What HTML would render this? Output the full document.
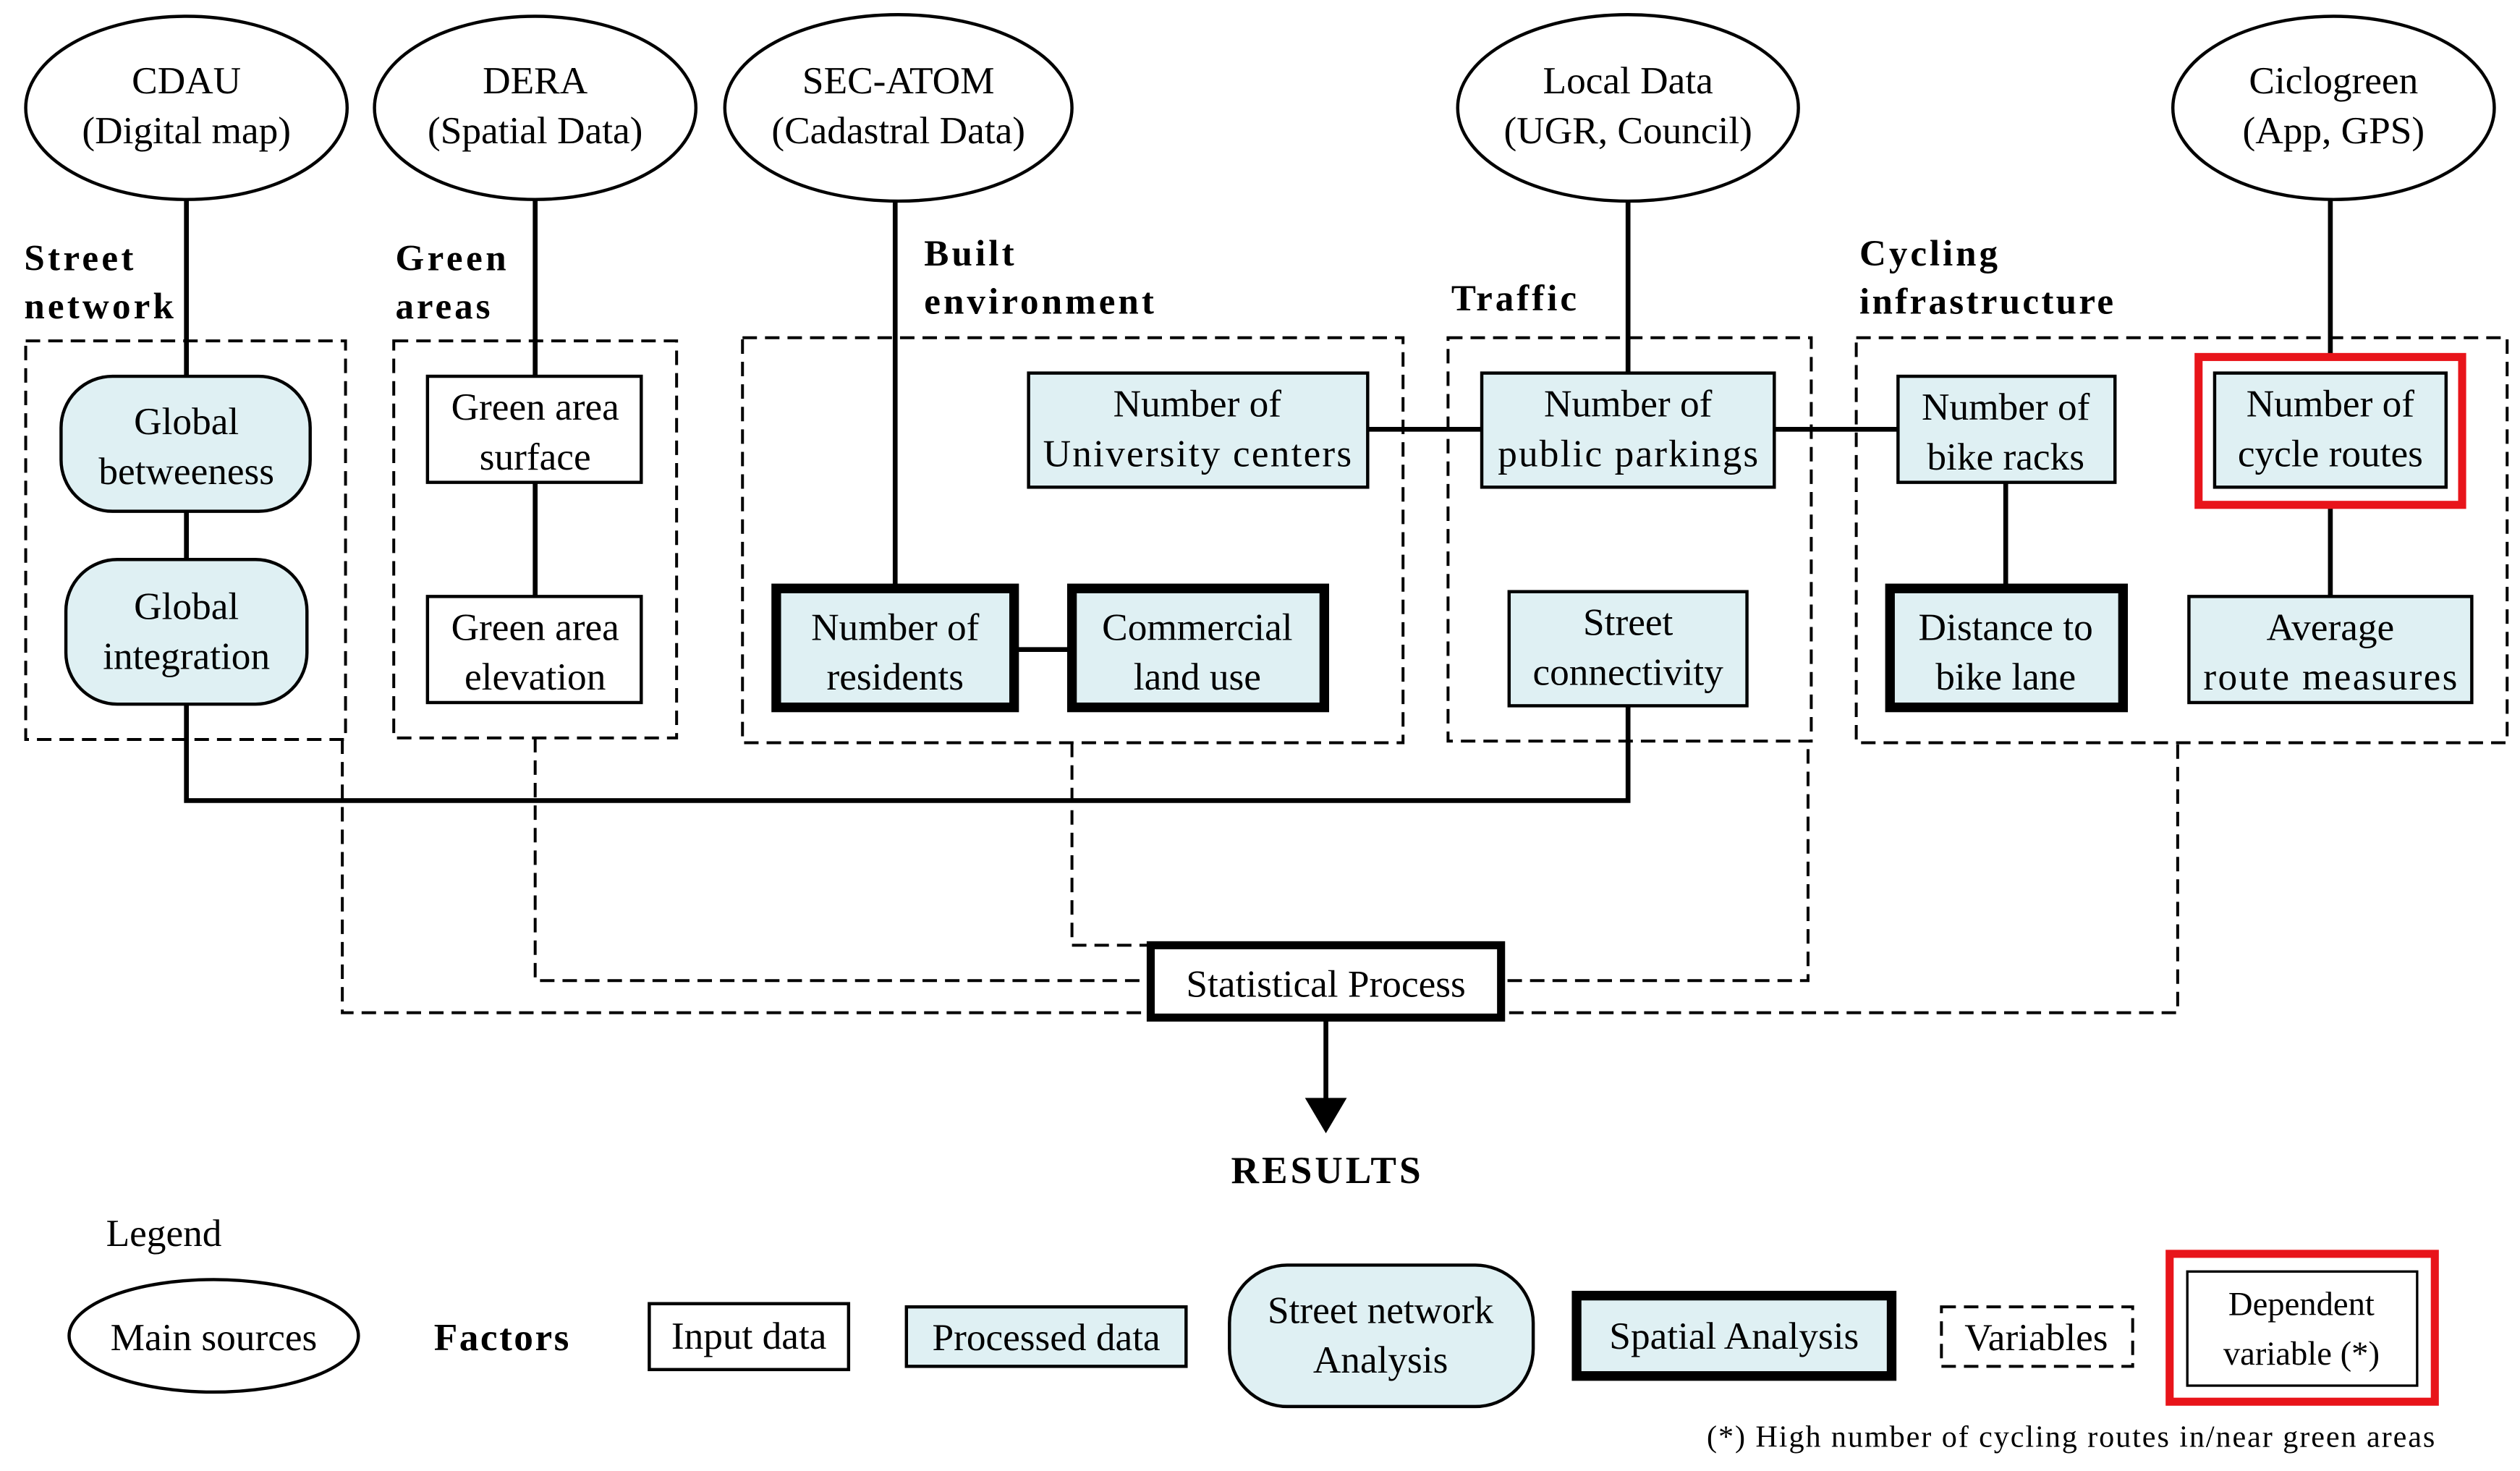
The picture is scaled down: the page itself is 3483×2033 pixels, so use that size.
<!DOCTYPE html>
<html><head><meta charset="utf-8"><style>html,body{margin:0;padding:0;background:#fff}svg{display:block}</style></head>
<body>
<svg width="3483" height="2033" viewBox="0 0 1568 915" xmlns="http://www.w3.org/2000/svg" font-family="Liberation Serif, serif" font-size="24">
<rect width="1568" height="915" fill="#fff"/>
<g fill="#fff" stroke="#000" stroke-width="2">
<ellipse cx="116" cy="67" rx="100" ry="57"/>
<ellipse cx="333" cy="67" rx="100" ry="57"/>
<ellipse cx="559" cy="67" rx="108" ry="58"/>
<ellipse cx="1013" cy="67" rx="106" ry="58"/>
<ellipse cx="1452" cy="67" rx="100" ry="57"/>
</g>
<g text-anchor="middle">
<text x="116" y="58">CDAU</text><text x="116" y="89">(Digital map)</text>
<text x="333" y="58">DERA</text><text x="333" y="89">(Spatial Data)</text>
<text x="559" y="58">SEC-ATOM</text><text x="559" y="89">(Cadastral Data)</text>
<text x="1013" y="58">Local Data</text><text x="1013" y="89">(UGR, Council)</text>
<text x="1452" y="58">Ciclogreen</text><text x="1452" y="89">(App, GPS)</text>
</g>
<g font-weight="bold" font-size="23">
<text x="15" y="168" textLength="68">Street</text><text x="15" y="198" textLength="93">network</text>
<text x="246" y="168" textLength="69">Green</text><text x="246" y="198" textLength="59">areas</text>
<text x="575" y="165" textLength="56">Built</text><text x="575" y="195" textLength="143">environment</text>
<text x="903" y="193" textLength="78">Traffic</text>
<text x="1157" y="165" textLength="86">Cycling</text><text x="1157" y="195" textLength="158">infrastructure</text>
</g>
<g stroke="#000" stroke-width="3" fill="none">
<line x1="116" y1="124" x2="116" y2="234"/>
<line x1="116" y1="318" x2="116" y2="348"/>
<line x1="333" y1="124" x2="333" y2="234"/>
<line x1="333" y1="300" x2="333" y2="371"/>
<line x1="557" y1="125" x2="557" y2="366"/>
<line x1="631" y1="404" x2="667" y2="404"/>
<line x1="1013" y1="125" x2="1013" y2="232"/>
<line x1="851" y1="267" x2="922" y2="267"/>
<line x1="1104" y1="267" x2="1181" y2="267"/>
<line x1="1248" y1="300" x2="1248" y2="366"/>
<line x1="1450" y1="124" x2="1450" y2="222"/>
<line x1="1450" y1="314" x2="1450" y2="371"/>
<polyline points="116,438 116,498 1013,498 1013,439"/>
<line x1="825" y1="633" x2="825" y2="686"/>
</g>
<polygon points="812,683 838,683 825,705" fill="#000"/>
<g stroke="#000" stroke-width="1.8" fill="none" stroke-dasharray="9,5">
<rect x="16" y="212" width="199" height="248"/>
<rect x="245" y="212" width="176" height="247"/>
<rect x="462" y="210" width="411" height="252"/>
<rect x="901" y="210" width="226" height="251"/>
<rect x="1155" y="210" width="405" height="252"/>
<polyline points="213,460 213,630 1355,630 1355,462"/>
<polyline points="333,459 333,610 1125,610 1125,461"/>
<polyline points="667,462 667,588 716,588"/>
<rect x="1208" y="813" width="119" height="37"/>
</g>
<g stroke="#000" stroke-width="2" fill="#dff0f3">
<rect x="38" y="234" width="155" height="84" rx="32"/>
<rect x="41" y="348" width="150" height="90" rx="32"/>
<rect x="266" y="234" width="133" height="66" fill="#fff"/>
<rect x="266" y="371" width="133" height="66" fill="#fff"/>
<rect x="640" y="232" width="211" height="71"/>
<rect x="922" y="232" width="182" height="71"/>
<rect x="939" y="368" width="148" height="71"/>
<rect x="1181" y="234" width="135" height="66"/>
<rect x="1378" y="232" width="144" height="71"/>
<rect x="1362" y="371" width="176" height="66"/>
<rect x="483" y="366" width="148" height="74" stroke-width="6"/>
<rect x="667" y="366" width="157" height="74" stroke-width="6"/>
<rect x="1176" y="366" width="145" height="74" stroke-width="6"/>
<rect x="716" y="588" width="218" height="45" fill="#fff" stroke-width="5"/>
</g>
<rect x="1368" y="222" width="164" height="92" fill="none" stroke="#e8141a" stroke-width="5"/>
<g text-anchor="middle">
<text x="116" y="270">Global</text><text x="116" y="301">betweeness</text>
<text x="116" y="385">Global</text><text x="116" y="416">integration</text>
<text x="333" y="261">Green area</text><text x="333" y="292">surface</text>
<text x="333" y="398">Green area</text><text x="333" y="429">elevation</text>
<text x="745" y="259">Number of</text><text x="745" y="290" textLength="192">University centers</text>
<text x="1013" y="259">Number of</text><text x="1013" y="290" textLength="162">public parkings</text>
<text x="1013" y="395">Street</text><text x="1013" y="426">connectivity</text>
<text x="1248" y="261">Number of</text><text x="1248" y="292">bike racks</text>
<text x="1450" y="259">Number of</text><text x="1450" y="290">cycle routes</text>
<text x="1450" y="398">Average</text><text x="1450" y="429" textLength="158">route measures</text>
<text x="557" y="398">Number of</text><text x="557" y="429">residents</text>
<text x="745" y="398">Commercial</text><text x="745" y="429">land use</text>
<text x="1248" y="398">Distance to</text><text x="1248" y="429">bike lane</text>
<text x="825" y="620">Statistical Process</text>
<text x="825" y="736" font-weight="bold" textLength="118">RESULTS</text>
</g>
<text x="66" y="775">Legend</text>
<ellipse cx="133" cy="831" rx="90" ry="35" fill="#fff" stroke="#000" stroke-width="2"/>
<text x="133" y="840" text-anchor="middle">Main sources</text>
<text x="270" y="840" font-weight="bold" textLength="84">Factors</text>
<rect x="404" y="811" width="124" height="41" fill="#fff" stroke="#000" stroke-width="2"/>
<text x="466" y="839" text-anchor="middle">Input data</text>
<rect x="564" y="813" width="174" height="37" fill="#dff0f3" stroke="#000" stroke-width="2"/>
<text x="651" y="840" text-anchor="middle">Processed data</text>
<rect x="765" y="787" width="189" height="88" rx="36" fill="#dff0f3" stroke="#000" stroke-width="2"/>
<text x="859" y="823" text-anchor="middle">Street network</text>
<text x="859" y="854" text-anchor="middle">Analysis</text>
<rect x="981" y="806" width="196" height="50" fill="#dff0f3" stroke="#000" stroke-width="6"/>
<text x="1079" y="839" text-anchor="middle">Spatial Analysis</text>
<text x="1267" y="840" text-anchor="middle">Variables</text>
<rect x="1350" y="780" width="165" height="92" fill="none" stroke="#e8141a" stroke-width="5"/>
<rect x="1361" y="791" width="143" height="71" fill="#fff" stroke="#000" stroke-width="1.5"/>
<text x="1432" y="818" text-anchor="middle" font-size="21">Dependent</text>
<text x="1432" y="849" text-anchor="middle" font-size="21">variable (*)</text>
<text x="1062" y="900" font-size="19" textLength="453">(*) High number of cycling routes in/near green areas</text>
</svg>
</body></html>
